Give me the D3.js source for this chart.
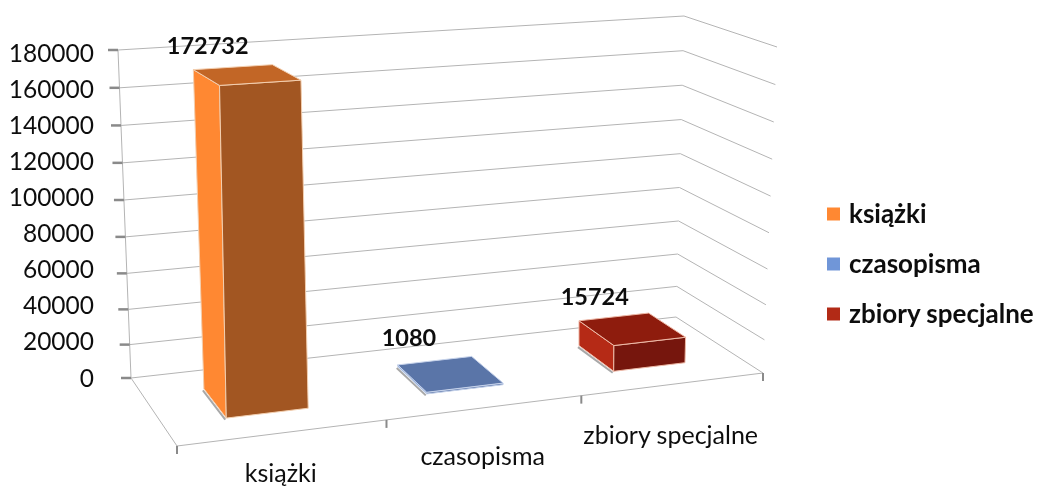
<!DOCTYPE html>
<html>
<head>
<meta charset="utf-8">
<script src="https://cdnjs.cloudflare.com/ajax/libs/d3/7.8.5/d3.min.js"></script>
<style>
    html, body { margin: 0; padding: 0; background: #fff; }
    svg { display: block; }
    text { font-family: Lato, sans-serif; fill: #111; }
</style>
</head>
<body>
<div id="chart"></div>
<script>
const categories = ["książki", "czasopisma", "zbiory specjalne"]
const values = [172732, 1080, 15724]
const valueLabels = ["172732", "1080", "15724"]
const yTicks = [0, 20000, 40000, 60000, 80000, 100000, 120000, 140000, 160000, 180000]

const frontColors = ["#a25622", "#5a74a8", "#76190c"]
const sideColors = ["#ff8833", "#7096d8", "#b52b15"]
const topColors = ["#c26628", "#5a74a8", "#8e1f0e"]
const edgeColors = ["#f3cfb0", "#c5d2ea", "#eeb9a8"]
const legendColors = ["#ff8833", "#7096d8", "#b22a14"]

const width = 1037, height = 488

// corners of the 3D box as seen in the picture (front-left, front-right, back-right, back-left)
const floorQuad = [[177, 446], [763, 373], [676, 317], [131, 378]]
const roofQuad = [[174, 85], [777, 47], [684, 16], [118, 50]]

// hand-tuned text nudges, one per category
const valueLabelShift = [[-6, 7], [4, 5], [11, 8]]
const categoryLabelDrop = [49, 57, 60]

// unit square -> quad
function homography(q) {
    const [[x0, y0], [x1, y1], [x2, y2], [x3, y3]] = q
    const dx1 = x1 - x2, dx2 = x3 - x2, sx = x0 - x1 + x2 - x3
    const dy1 = y1 - y2, dy2 = y3 - y2, sy = y0 - y1 + y2 - y3
    const det = dx1 * dy2 - dx2 * dy1
    const g = (sx * dy2 - dx2 * sy) / det
    const h = (dx1 * sy - sx * dy1) / det
    const a = x1 - x0 + g * x1, b = x3 - x0 + h * x3
    const d = y1 - y0 + g * y1, e = y3 - y0 + h * y3
    return (u, w) => {
        const z = g * u + h * w + 1
        return [(a * u + b * w + x0) / z, (d * u + e * w + y0) / z]
    }
}

const floor = homography(floorQuad)
const roof = homography(roofQuad)

const heightScale = d3.scalePow().exponent(1.04).domain([0, 180000]).range([0, 1])
const uScale = d3.scaleBand().domain(categories).range([0, 1]).paddingInner(0.6).paddingOuter(0.3)
const wScale = d3.scaleLinear().domain([0, 1]).range([0.28, 0.72])

// u along the categories, w in depth, v = value
function project(u, w, v) {
    const t = heightScale(v)
    const f = floor(u, w), r = roof(u, w)
    return [f[0] + (r[0] - f[0]) * t, f[1] + (r[1] - f[1]) * t]
}

const svg = d3.select("#chart").append("svg")
    .attr("width", width)
    .attr("height", height)
    .attr("viewBox", [0, 0, width, height])

// the original is a slightly blurred bitmap
svg.append("defs").append("filter")
    .attr("id", "soft")
    .append("feGaussianBlur")
    .attr("stdDeviation", 0.4)

const root = svg.append("g").attr("filter", "url(#soft)")
const line = d3.line()

/*----- walls and floor -----*/

const grid = root.append("g")
    .attr("fill", "none")
    .attr("stroke", "#b4b4b4")
    .attr("stroke-width", 1)

grid.selectAll("path.grid")
    .data(yTicks)
    .join("path")
    .attr("class", "grid")
    .attr("d", v => line([project(0, 1, v), project(1, 1, v), project(1, 0, v)]))

grid.append("path")
    .attr("d", line([project(0, 1, 0), project(0, 1, 180000)]))
grid.append("path")
    .attr("d", line([project(0, 1, 0), project(0, 0, 0), project(1, 0, 0)]))

// tick marks on the value axis
root.append("g").selectAll("line")
    .data(yTicks)
    .join("line")
    .attr("x1", v => project(0, 1, v)[0] - 10)
    .attr("x2", v => project(0, 1, v)[0])
    .attr("y1", v => project(0, 1, v)[1])
    .attr("y2", v => project(0, 1, v)[1])
    .attr("stroke", "#8a8a8a")
    .attr("stroke-width", 2.5)

// tick marks on the category axis
root.append("g").selectAll("line")
    .data(d3.range(categories.length + 1))
    .join("line")
    .attr("x1", i => floor(i / categories.length, 0)[0])
    .attr("x2", i => floor(i / categories.length, 0)[0])
    .attr("y1", i => floor(i / categories.length, 0)[1])
    .attr("y2", i => floor(i / categories.length, 0)[1] + 8)
    .attr("stroke", "#8a8a8a")
    .attr("stroke-width", 2)

/*----- bars -----*/

const bars = root.append("g").selectAll("g")
    .data(categories)
    .join("g")

bars.each(function (c, i) {
    const g = d3.select(this)
    const u0 = uScale(c), u1 = u0 + uScale.bandwidth()
    const w0 = wScale(0), w1 = wScale(1)
    const v = values[i]

    // shadow under the left edge
    g.append("path")
        .attr("d", line([project(u0, w1, 0), project(u0, w0, 0)]))
        .attr("transform", "translate(-1,1.5)")
        .attr("stroke", "#a8a8a8")
        .attr("stroke-width", 2)
        .attr("fill", "none")

    const faces = [
        { pts: [project(u0, w1, 0), project(u0, w0, 0), project(u0, w0, v), project(u0, w1, v)], fill: sideColors[i] },
        { pts: [project(u0, w0, 0), project(u1, w0, 0), project(u1, w0, v), project(u0, w0, v)], fill: frontColors[i] },
        { pts: [project(u0, w0, v), project(u1, w0, v), project(u1, w1, v), project(u0, w1, v)], fill: topColors[i] }
    ]

    g.selectAll("path.face")
        .data(faces)
        .join("path")
        .attr("class", "face")
        .attr("d", d => line(d.pts) + "Z")
        .attr("fill", d => d.fill)
        .attr("stroke", edgeColors[i])
        .attr("stroke-width", 1)
        .attr("stroke-linejoin", "round")
})

/*----- text -----*/

const yLabelPos = d3.scaleLinear().domain([0, 180000]).range([378, 53])

root.append("g").selectAll("text")
    .data(yTicks)
    .join("text")
    .attr("x", 94)
    .attr("y", v => yLabelPos(v))
    .attr("dy", "0.35em")
    .attr("text-anchor", "end")
    .attr("font-size", 24.5)
    .text(v => v)

// value labels sit above the back of each bar
root.append("g").selectAll("text")
    .data(categories)
    .join("text")
    .attr("x", (c, i) => project(uScale(c) + uScale.bandwidth() / 2, wScale(1), 0)[0] - 30 + valueLabelShift[i][0])
    .attr("y", (c, i) => project(uScale(c) + uScale.bandwidth() / 2, wScale(1), values[i])[1] - 20 + valueLabelShift[i][1])
    .attr("text-anchor", "middle")
    .attr("font-size", 23.5)
    .attr("font-weight", 700)
    .text((c, i) => valueLabels[i])

root.append("g").selectAll("text")
    .data(categories)
    .join("text")
    .attr("x", c => floor(uScale(c) + uScale.bandwidth() / 2, 0)[0] - 3)
    .attr("y", (c, i) => floor(uScale(c) + uScale.bandwidth() / 2, 0)[1] + categoryLabelDrop[i])
    .attr("text-anchor", "middle")
    .attr("font-size", 25)
    .text(c => c)

// legend
const legendY = d3.scalePoint().domain(categories).range([214, 314])
const legend = root.append("g").selectAll("g")
    .data(categories)
    .join("g")
    .attr("transform", c => `translate(827,${legendY(c)})`)

legend.append("rect")
    .attr("y", -6.5)
    .attr("width", 13)
    .attr("height", 13)
    .attr("fill", (c, i) => legendColors[i])

legend.append("text")
    .attr("x", 22)
    .attr("dy", "0.35em")
    .attr("font-size", 26)
    .attr("font-weight", 700)
    .text(c => c)
</script>
</body>
</html>
